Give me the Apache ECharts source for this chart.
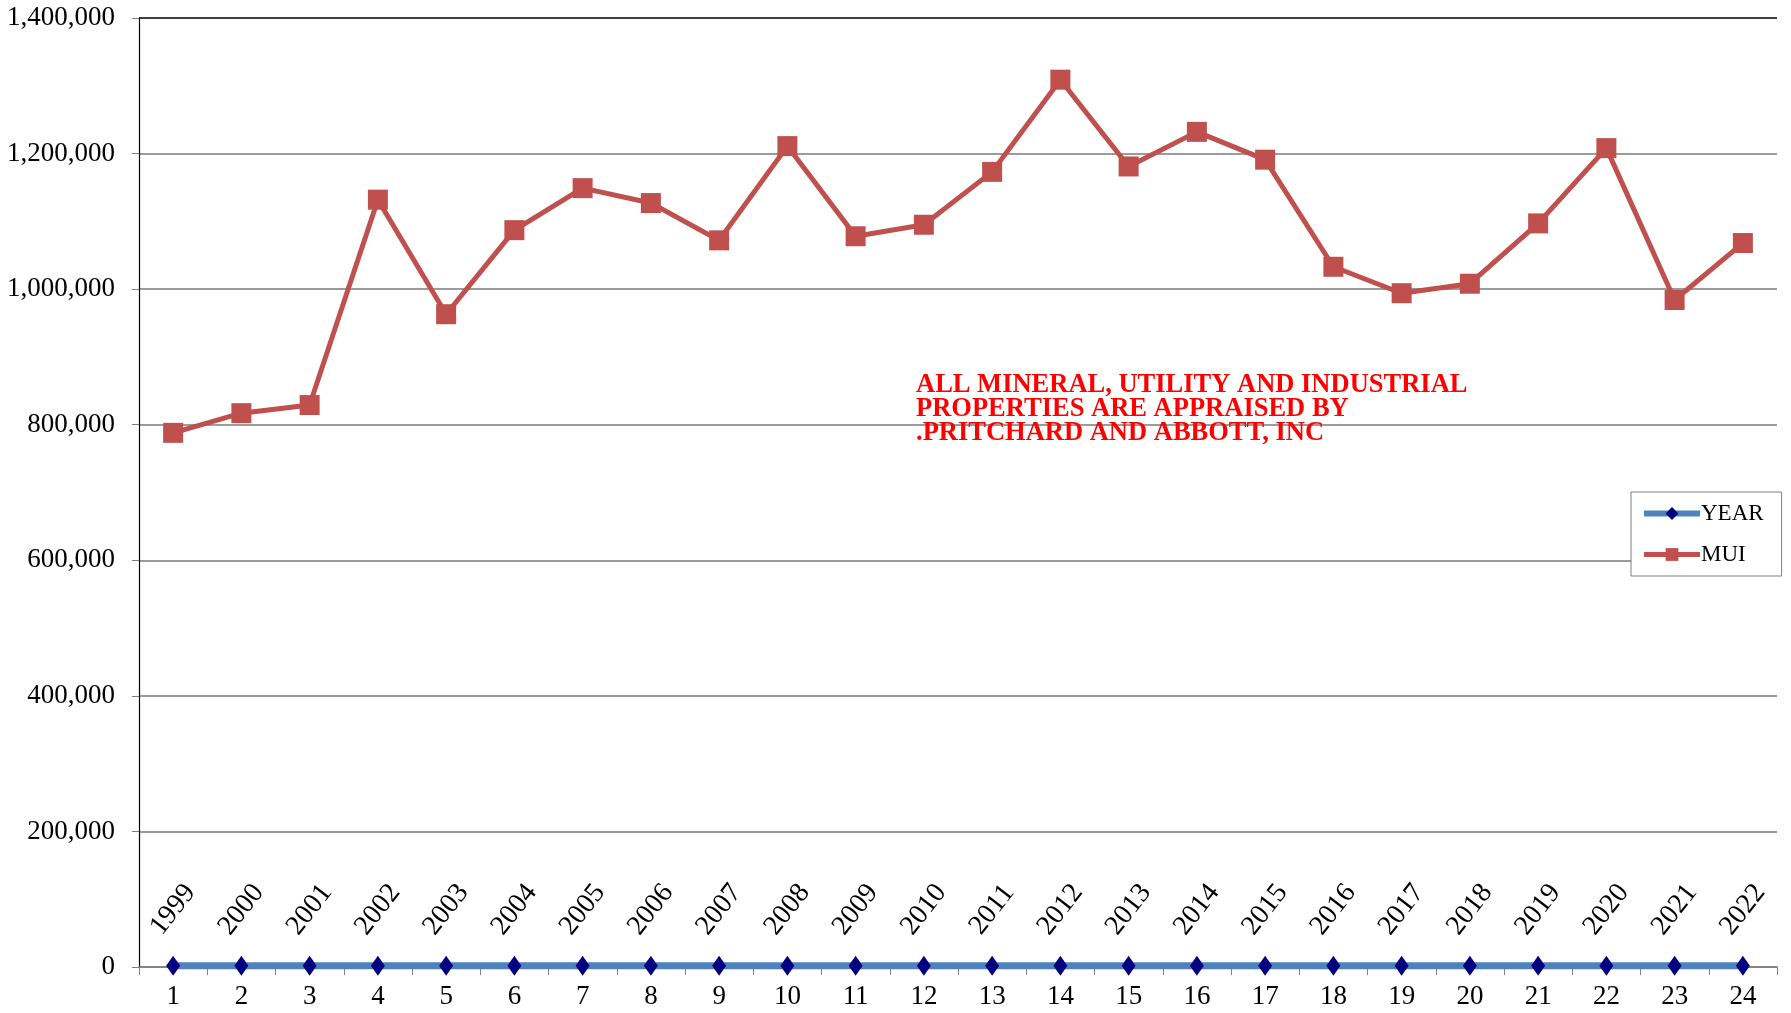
<!DOCTYPE html>
<html>
<head>
<meta charset="utf-8">
<title>MUI</title>
<script src="https://cdn.jsdelivr.net/npm/echarts@6/dist/echarts.min.js"></script>
<style>
  html, body { margin: 0; padding: 0; background: #fff; }
  #chart { width: 1791px; height: 1013px; }
</style>
</head>
<body>
<div id="chart"></div>
<script>
// Category index along the x axis
const categories = ['1','2','3','4','5','6','7','8','9','10','11','12',
                    '13','14','15','16','17','18','19','20','21','22','23','24'];

// YEAR series (drawn near zero, labelled with the year)
const years = [1999, 2000, 2001, 2002, 2003, 2004, 2005, 2006, 2007, 2008, 2009, 2010,
               2011, 2012, 2013, 2014, 2015, 2016, 2017, 2018, 2019, 2020, 2021, 2022];

// MUI appraised values
const mui = [788000, 817000, 829000, 1132000, 963000, 1087000, 1149000, 1127000,
             1072000, 1211000, 1078000, 1095000, 1173000, 1309000, 1181000, 1232000,
             1191000, 1033000, 994000, 1008000, 1097000, 1208000, 984000, 1068000];

// Value axis ticks
const yTicks = { min: 0, max: 1400000, interval: 200000 };

const note = [
  'ALL MINERAL, UTILITY AND INDUSTRIAL',
  'PROPERTIES ARE APPRAISED BY',
  '.PRITCHARD AND ABBOTT, INC'
];

const serif = '"Liberation Serif", "Times New Roman", serif';

// gridlines are grey, the top one is a darker frame line
const gridColors = ['#7a7a7a', '#7a7a7a', '#7a7a7a', '#7a7a7a',
                    '#7a7a7a', '#7a7a7a', '#7a7a7a', '#000000'];

const chart = echarts.init(document.getElementById('chart'), null, { renderer: 'canvas' });

chart.setOption({
  animation: false,
  backgroundColor: '#ffffff',
  textStyle: { fontFamily: serif },
  grid: { left: 139, right: 14, top: 18, bottom: 46, containLabel: false },
  legend: {
    orient: 'vertical',
    left: 1631,
    top: 492,
    width: 144,
    padding: [10, 18, 10, 10],
    itemGap: 18,
    itemWidth: 56,
    itemHeight: 16,
    backgroundColor: '#ffffff',
    borderColor: '#7f7f7f',
    borderWidth: 1,
    borderRadius: 0,
    lineStyle: { width: 6 },
    textStyle: { fontFamily: serif, fontSize: 23, color: '#000', padding: [0, 0, 0, -4] },
    data: [
      { name: 'YEAR', lineStyle: { width: 6, color: '#4F81BD' } },
      { name: 'MUI', lineStyle: { width: 5, color: '#C0504D' } }
    ]
  },
  xAxis: {
    type: 'category',
    data: categories,
    boundaryGap: true,
    axisLine: { show: true, lineStyle: { color: '#7f7f7f', width: 1.5 } },
    axisTick: { show: true, inside: false, length: 8, lineStyle: { color: '#7f7f7f' } },
    axisLabel: { fontFamily: serif, fontSize: 27, color: '#000', margin: 16 },
    splitLine: { show: false }
  },
  yAxis: {
    type: 'value',
    min: yTicks.min,
    max: yTicks.max,
    interval: yTicks.interval,
    axisLine: { show: true, lineStyle: { color: '#000', width: 1.2 } },
    axisTick: { show: true, inside: false, length: 7, lineStyle: { color: '#7f7f7f' } },
    axisLabel: {
      fontFamily: serif, fontSize: 27, color: '#000', margin: 24,
      formatter: v => v.toLocaleString('en-US')
    },
    splitLine: { show: true, lineStyle: { color: gridColors, width: 1.5 } }
  },
  graphic: [{
    type: 'text',
    left: 916,
    top: 372,
    z: 10,
    style: {
      text: note.join('\n'),
      fontFamily: serif,
      fontWeight: 'bold',
      fontSize: 26.5,
      lineHeight: 24,
      fill: '#ff0000'
    }
  }],
  series: [
    {
      name: 'YEAR',
      type: 'line',
      data: years,
      symbol: 'diamond',
      symbolSize: [14, 20],
      itemStyle: { color: '#000080' },
      lineStyle: { color: '#4F81BD', width: 7 },
      label: {
        show: true,
        position: 'top',
        distance: 46,
        rotate: 52,
        align: 'center',
        verticalAlign: 'middle',
        fontFamily: serif,
        fontSize: 28,
        color: '#000'
      },
      z: 3
    },
    {
      name: 'MUI',
      type: 'line',
      data: mui,
      symbol: 'rect',
      symbolSize: 20,
      itemStyle: { color: '#C0504D' },
      lineStyle: { color: '#C0504D', width: 5 },
      z: 4
    }
  ]
});
</script>
</body>
</html>
